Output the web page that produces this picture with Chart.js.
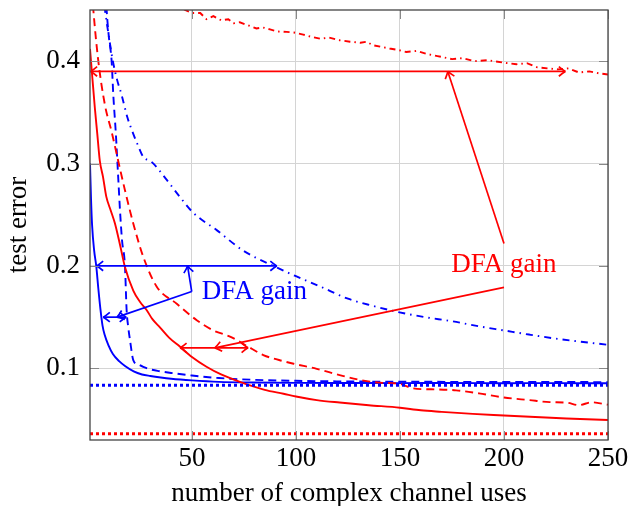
<!DOCTYPE html>
<html>
<head>
<meta charset="utf-8">
<script src="https://cdn.jsdelivr.net/npm/chart.js@4.4.1/dist/chart.umd.min.js"></script>
<style>
  html, body { margin: 0; padding: 0; background: #fff; }
</style>
</head>
<body>
<canvas id="c" width="635" height="506"></canvas>
<script>
// tick labels
const xTicks = [50, 100, 150, 200, 250];
const yTicks = [0.1, 0.2, 0.3, 0.4];

// blue solid
const bsX = [1, 1.5, 2, 3, 4, 5, 6, 7, 8, 10, 12, 15, 18, 22, 26, 30, 35, 40, 50, 63, 80, 100, 125, 150, 175, 200, 225, 250];
const bsY = [0.30, 0.265, 0.24, 0.215, 0.2, 0.178, 0.158, 0.142, 0.133, 0.122, 0.114, 0.107, 0.102, 0.097, 0.094, 0.0925, 0.091, 0.0898, 0.0882, 0.0868, 0.0862, 0.0858, 0.0857, 0.0856, 0.0857, 0.0855, 0.0856, 0.0854];

// blue dashed
const bdX = [7, 9, 10, 11.4, 12.2, 13.4, 14.6, 15.4, 16.4, 17.8, 18.6, 19.4, 20.2, 21.8, 24, 26.6, 30, 35, 40, 50, 63, 80, 100, 125, 150, 175, 200, 225, 250];
const bdY = [0.53, 0.45, 0.425, 0.4, 0.367, 0.33, 0.285, 0.255, 0.225, 0.2, 0.157, 0.14, 0.128, 0.108, 0.104, 0.1015, 0.099, 0.097, 0.0955, 0.093, 0.0905, 0.0888, 0.0878, 0.0872, 0.0869, 0.0868, 0.0866, 0.0867, 0.0865];

// blue dash-dotted
const bddX = [6, 8.2, 10, 12, 14, 16.2, 19, 21.8, 24, 26.6, 30.6, 37.9, 44, 50.6, 61.9, 74.6, 90.8, 100, 111.6, 125, 137, 149, 162, 175, 188, 200, 212, 225, 237, 250];
const bddY = [0.49, 0.45, 0.425, 0.4, 0.382, 0.367, 0.345, 0.329, 0.318, 0.3066, 0.3017, 0.284, 0.268, 0.252, 0.235, 0.215, 0.1985, 0.19, 0.18, 0.168, 0.161, 0.155, 0.15, 0.146, 0.141, 0.137, 0.133, 0.129, 0.126, 0.123];

// blue dotted
const bdotX = [1, 250];
const bdotY = [0.0834, 0.0834];

// red solid
const rsX = [1, 2, 3.3, 4.5, 5.7, 7.25, 8.8, 11, 13, 15.5, 17.8, 21.8, 25, 28.2, 31, 34.6, 39, 44.3, 50, 57, 64, 74, 85, 94, 100, 110, 121, 135, 150, 160, 170, 185, 200, 215, 230, 250];
const rsY = [0.412, 0.387, 0.355, 0.329, 0.303, 0.287, 0.268, 0.254, 0.2415, 0.22, 0.199, 0.176, 0.165, 0.157, 0.148, 0.14, 0.13, 0.121, 0.111, 0.1015, 0.094, 0.086, 0.079, 0.0752, 0.0725, 0.069, 0.0666, 0.064, 0.0615, 0.059, 0.0575, 0.0555, 0.054, 0.0525, 0.051, 0.0495];

// red dashed
const rdX = [1.5, 2.6, 5, 8.2, 11.4, 15.4, 17.8, 21.8, 26.6, 33, 42.7, 52.3, 60.3, 68.3, 76.3, 84.3, 93.9, 100, 110, 121, 130, 140, 150, 156, 165, 177, 188, 200, 212, 222, 230, 236, 242, 250];
const rdY = [0.48, 0.45, 0.4, 0.357, 0.331, 0.295, 0.274, 0.2415, 0.209, 0.18, 0.163, 0.147, 0.137, 0.131, 0.122, 0.113, 0.107, 0.104, 0.0995, 0.0934, 0.089, 0.086, 0.0848, 0.0805, 0.0795, 0.0785, 0.0755, 0.0715, 0.069, 0.067, 0.0665, 0.064, 0.0668, 0.0645];

// red dash-dotted
const rddX = [40, 46.7, 50, 54, 57, 60.3, 64, 67.5, 70, 73, 77, 81, 84, 87.5, 91, 95.5, 99, 103.5, 107, 111.6, 116, 121, 126, 131, 134, 137, 141, 145, 149, 153, 158, 163, 168, 175, 180, 186, 192, 200, 206, 211, 216, 221, 226, 231, 236, 241, 246, 250];
const rddY = [0.46, 0.45, 0.447, 0.447, 0.441, 0.444, 0.44, 0.441, 0.437, 0.438, 0.435, 0.432, 0.433, 0.431, 0.429, 0.4286, 0.428, 0.426, 0.424, 0.422, 0.423, 0.4205, 0.419, 0.418, 0.419, 0.4156, 0.414, 0.4124, 0.411, 0.409, 0.41, 0.407, 0.405, 0.402, 0.403, 0.4, 0.401, 0.3985, 0.397, 0.398, 0.394, 0.393, 0.392, 0.393, 0.389, 0.39, 0.388, 0.387];

// red dotted
const rdotX = [1, 250];
const rdotY = [0.036, 0.036];

// annotation arrows: x pair, y pair
const redWideX = [1.3, 229.5], redWideY = [0.39, 0.39];
const redWidePtrX = [200, 173], redWidePtrY = [0.222, 0.39];
const redNarrowX = [44.3, 77], redNarrowY = [0.12, 0.12];
const redNarrowPtrX = [200, 61], redNarrowPtrY = [0.179, 0.12];
const blueWideX = [4.2, 90.8], blueWideY = [0.2, 0.2];
const blueWidePtrX = [49.9, 47.9], blueWidePtrY = [0.175, 0.2];
const blueNarrowX = [7.4, 18.4], blueNarrowY = [0.15, 0.15];
const blueNarrowPtrX = [49.9, 14], blueNarrowPtrY = [0.175, 0.15];

// annotation labels
const redLabel = { text: 'DFA gain', x: 200, y: 0.1943 };
const blueLabel = { text: 'DFA gain', x: 54.7, y: 0.168 };

const RED = '#ff0000';
const BLUE = '#0000ff';
const FONT = '"Liberation Serif", "Times New Roman", serif';
const LW = 1.9;

function pts(xs, ys) {
    return xs.map((v, i) => ({ x: v, y: ys[i] }));
}

function series(xs, ys, color, dash, width, smooth) {
    return {
        data: pts(xs, ys),
        borderColor: color,
        borderWidth: width,
        borderDash: dash,
        pointRadius: 0,
        fill: false,
        tension: 0,
        cubicInterpolationMode: smooth ? 'monotone' : 'default'
    };
}

function arrowHead(ctx, tx, ty, fx, fy) {
    const a = Math.atan2(ty - fy, tx - fx);
    const L = 6.5, W = 4.8;
    const c = Math.cos(a), s = Math.sin(a);
    ctx.setLineDash([]);
    [-1, 1].forEach(k => {
        const bx = tx - L * c - k * W * s;
        const by = ty - L * s + k * W * c;
        const mx = tx - L * 0.35 * c - k * W * 0.25 * s;
        const my = ty - L * 0.35 * s + k * W * 0.25 * c;
        ctx.beginPath();
        ctx.moveTo(bx, by);
        ctx.quadraticCurveTo(mx, my, tx, ty);
        ctx.stroke();
    });
}

function drawArrow(chart, xs, ys, color, startHead, endHead) {
    const { ctx, scales: { x, y } } = chart;
    const x1 = x.getPixelForValue(xs[0]), y1 = y.getPixelForValue(ys[0]);
    const x2 = x.getPixelForValue(xs[1]), y2 = y.getPixelForValue(ys[1]);
    ctx.save();
    ctx.strokeStyle = color;
    ctx.lineWidth = 1.7;
    ctx.setLineDash([]);
    ctx.beginPath();
    ctx.moveTo(x1, y1);
    ctx.lineTo(x2, y2);
    ctx.stroke();
    if (startHead) arrowHead(ctx, x1, y1, x2, y2);
    if (endHead) arrowHead(ctx, x2, y2, x1, y1);
    ctx.restore();
}

const decor = {
    id: 'decor',
    afterDatasetsDraw(chart) {
        const { ctx, chartArea: a, scales: { x, y } } = chart;

        drawArrow(chart, redWideX, redWideY, RED, true, true);
        drawArrow(chart, redWidePtrX, redWidePtrY, RED, false, true);
        drawArrow(chart, redNarrowX, redNarrowY, RED, true, true);
        drawArrow(chart, redNarrowPtrX, redNarrowPtrY, RED, false, true);
        drawArrow(chart, blueWideX, blueWideY, BLUE, true, true);
        drawArrow(chart, blueWidePtrX, blueWidePtrY, BLUE, false, true);
        drawArrow(chart, blueNarrowX, blueNarrowY, BLUE, true, true);
        drawArrow(chart, blueNarrowPtrX, blueNarrowPtrY, BLUE, false, true);

        ctx.save();
        ctx.font = '27px ' + FONT;
        ctx.textBaseline = 'alphabetic';
        ctx.fillStyle = RED;
        ctx.textAlign = 'center';
        ctx.fillText(redLabel.text, x.getPixelForValue(redLabel.x), y.getPixelForValue(redLabel.y));
        ctx.fillStyle = BLUE;
        ctx.textAlign = 'left';
        ctx.fillText(blueLabel.text, x.getPixelForValue(blueLabel.x), y.getPixelForValue(blueLabel.y));
        ctx.restore();

        // axis box and inward tick marks
        ctx.save();
        ctx.strokeStyle = '#888';
        ctx.lineWidth = 1;
        const tl = 9;
        xTicks.forEach(v => {
            const px = Math.round(x.getPixelForValue(v)) + 0.5;
            ctx.beginPath();
            ctx.moveTo(px, a.bottom); ctx.lineTo(px, a.bottom - tl);
            ctx.moveTo(px, a.top); ctx.lineTo(px, a.top + tl);
            ctx.stroke();
        });
        yTicks.forEach(v => {
            const py = Math.round(y.getPixelForValue(v)) + 0.5;
            ctx.beginPath();
            ctx.moveTo(a.left, py); ctx.lineTo(a.left + tl, py);
            ctx.moveTo(a.right, py); ctx.lineTo(a.right - tl, py);
            ctx.stroke();
        });
        ctx.strokeStyle = '#444';
        ctx.lineWidth = 1.3;
        ctx.strokeRect(a.left, a.top, a.right - a.left, a.bottom - a.top);
        ctx.restore();
    }
};

new Chart(document.getElementById('c').getContext('2d'), {
    type: 'line',
    data: {
        datasets: [
            series(rdotX, rdotY, RED, [3, 3], 3, false),
            series(bdotX, bdotY, BLUE, [3, 3], 3, false),
            series(rddX, rddY, RED, [6, 4, 1.5, 4], LW, false),
            series(rdX, rdY, RED, [8, 5], LW, true),
            series(rsX, rsY, RED, [], LW, true),
            series(bddX, bddY, BLUE, [7, 5, 1.5, 5], LW, true),
            series(bdX, bdY, BLUE, [8, 5], LW, true),
            series(bsX, bsY, BLUE, [], LW, true)
        ]
    },
    options: {
        responsive: false,
        animation: false,
        devicePixelRatio: 1,
        layout: { padding: { top: 10, right: 27, left: 0, bottom: 0 } },
        plugins: { legend: { display: false }, tooltip: { enabled: false } },
        scales: {
            x: {
                type: 'linear',
                min: 1,
                max: 250,
                afterBuildTicks: s => { s.ticks = xTicks.map(v => ({ value: v })); },
                afterFit: s => { s.height = 66; s.paddingLeft = 0; s.paddingRight = 0; },
                grid: { color: '#d4d4d4', lineWidth: 1, drawTicks: false },
                border: { display: false },
                ticks: {
                    color: '#000',
                    font: { family: FONT, size: 27, lineHeight: 1.2 },
                    padding: 3,
                    maxRotation: 0,
                    autoSkip: false,
                    callback: v => String(v)
                },
                title: {
                    display: true,
                    text: 'number of complex channel uses',
                    color: '#000',
                    font: { family: FONT, size: 27, lineHeight: 1 },
                    padding: { top: 0, bottom: -1 }
                }
            },
            y: {
                min: 0.03,
                max: 0.45,
                afterBuildTicks: s => { s.ticks = yTicks.map(v => ({ value: v })); },
                afterFit: s => { s.width = 90; s.paddingTop = 0; s.paddingBottom = 0; },
                grid: { color: '#d4d4d4', lineWidth: 1, drawTicks: false },
                border: { display: false },
                ticks: {
                    color: '#000',
                    font: { family: FONT, size: 27, lineHeight: 1.2 },
                    padding: 10,
                    callback: v => v.toFixed(1)
                },
                title: {
                    display: true,
                    text: 'test error',
                    color: '#000',
                    font: { family: FONT, size: 27, lineHeight: 1 },
                    padding: { top: 5, bottom: 0 }
                }
            }
        }
    },
    plugins: [decor]
});
</script>
</body>
</html>
